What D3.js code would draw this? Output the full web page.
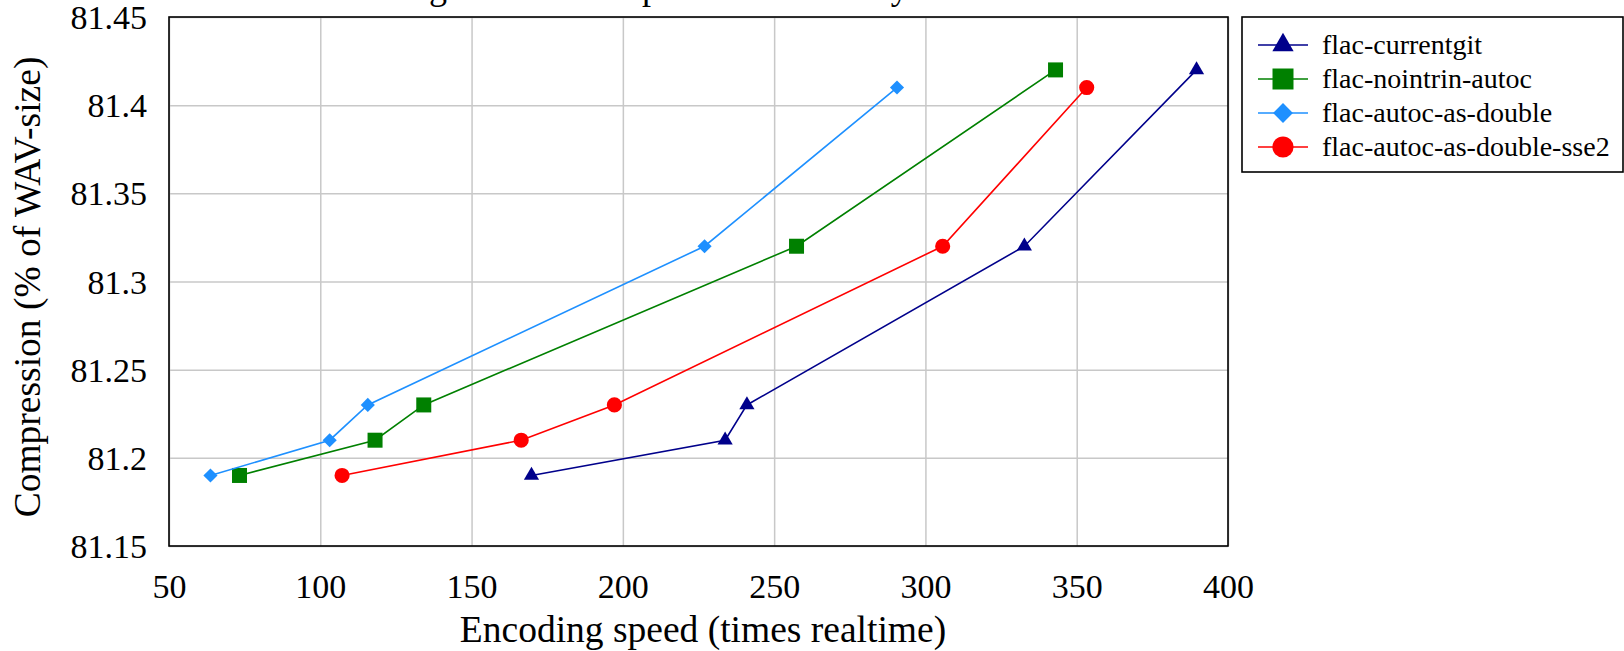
<!DOCTYPE html>
<html>
<head>
<meta charset="utf-8">
<script src="https://cdn.jsdelivr.net/npm/d3@7"></script>
<style>
  html, body { margin: 0; padding: 0; background: #fff; }
  svg { display: block; }
  text { font-family: "Liberation Serif", "Times New Roman", serif; fill: #000; }
</style>
</head>
<body>
<svg id="chart" width="1624" height="651"></svg>
<script>
// ---- data ----
const seriesNames = ["flac-currentgit", "flac-nointrin-autoc", "flac-autoc-as-double", "flac-autoc-as-double-sse2"];
const currentgitSpeed = [169.8, 233.8, 241.0, 332.7, 389.6];
const currentgitComp = [81.19, 81.21, 81.23, 81.32, 81.42];
const nointrinSpeed = [73.3, 118.1, 134.2, 257.4, 343.0];
const nointrinComp = [81.19, 81.21, 81.23, 81.32, 81.42];
const doubleSpeed = [63.7, 103.1, 115.7, 227.0, 290.6];
const doubleComp = [81.19, 81.21, 81.23, 81.32, 81.41];
const sse2Speed = [107.2, 166.4, 197.2, 305.7, 353.3];
const sse2Comp = [81.19, 81.21, 81.23, 81.32, 81.41];
const xTicks = [50, 100, 150, 200, 250, 300, 350, 400];
const yTicks = [81.15, 81.2, 81.25, 81.3, 81.35, 81.4, 81.45];
const xTitle = "Encoding speed (times realtime)";
const yTitle = "Compression (% of WAV-size)";
const chartTitle = "Encoding rate and compression of flac by level";

// ---- styling ----
const colors = ["#00008b", "#008000", "#1e90ff", "#ff0000"];
const markerTypes = ["triangle", "square", "diamond", "circle"];

const svg = d3.select("#chart");
const pL = 169, pR = 1228, pT = 17, pB = 546;

const x = d3.scaleLinear().domain([50, 400]).range([pL, pR]);
const y = d3.scaleLinear().domain([81.15, 81.45]).range([pB, pT]);

// grid
svg.append("g")
  .attr("transform", `translate(0,${pB})`)
  .call(d3.axisBottom(x).tickValues(xTicks).tickSize(-(pB - pT)).tickFormat(""))
  .call(g => g.select(".domain").remove())
  .call(g => g.selectAll("line").attr("stroke", "#c8c8c8").attr("stroke-width", 1.5));
svg.append("g")
  .attr("transform", `translate(${pL},0)`)
  .call(d3.axisLeft(y).tickValues(yTicks).tickSize(-(pR - pL)).tickFormat(""))
  .call(g => g.select(".domain").remove())
  .call(g => g.selectAll("line").attr("stroke", "#c8c8c8").attr("stroke-width", 1.5));

// tick labels
svg.append("g")
  .attr("transform", `translate(0,${pB})`)
  .call(d3.axisBottom(x).tickValues(xTicks).tickSize(0).tickPadding(0).tickFormat(d3.format("d")))
  .call(g => g.select(".domain").remove())
  .call(g => g.selectAll("text")
     .attr("dy", null).attr("y", 52)
     .style("font-family", '"Liberation Serif", serif').style("font-size", "34px").attr("fill", "#000"));
svg.append("g")
  .attr("transform", `translate(${pL},0)`)
  .call(d3.axisLeft(y).tickValues(yTicks).tickSize(0).tickPadding(0).tickFormat(d => String(+d.toFixed(2))))
  .call(g => g.select(".domain").remove())
  .call(g => g.selectAll("text")
     .attr("dy", null).attr("x", -22).attr("y", 11.5)
     .style("font-family", '"Liberation Serif", serif').style("font-size", "34px").attr("fill", "#000"));

// axis titles
svg.append("text").attr("x", 703).attr("y", 642)
  .attr("text-anchor", "middle").style("font-size", "37.5px").text(xTitle);
svg.append("text").attr("transform", `translate(40,287) rotate(-90)`)
  .attr("text-anchor", "middle").style("font-size", "37.5px").text(yTitle);

// title (mostly above the canvas) - positioned so its first descender sits near x=438
const title = svg.append("text").attr("x", 0).attr("y", -1)
  .attr("text-anchor", "start").style("font-size", "36px").text(chartTitle);
(function placeTitle() {
  const node = title.node();
  const gi = chartTitle.indexOf("g");
  let off = 0;
  try {
    off = node.getSubStringLength(0, gi) + node.getSubStringLength(gi, 1) / 2;
  } catch (e) { off = 130; }
  title.attr("x", 438 - off);
})();

// series
const series = [
  { name: seriesNames[0], xs: currentgitSpeed, ys: currentgitComp },
  { name: seriesNames[1], xs: nointrinSpeed, ys: nointrinComp },
  { name: seriesNames[2], xs: doubleSpeed, ys: doubleComp },
  { name: seriesNames[3], xs: sse2Speed, ys: sse2Comp }
];

function markerPath(type, scale) {
  if (type === "triangle") return d3.symbol(d3.symbolTriangle, 100 * scale * scale)();
  if (type === "square") return d3.symbol(d3.symbolSquare, 225 * scale * scale)();
  if (type === "diamond") return d3.symbol(d3.symbolSquare, 100 * scale * scale)();
  return d3.symbol(d3.symbolCircle, 180 * scale * scale)();
}
function markerTransform(type, px, py) {
  return type === "diamond" ? `translate(${px},${py}) rotate(45)` : `translate(${px},${py})`;
}

const line = d3.line().x(d => x(d[0])).y(d => y(d[1]));
series.forEach((s, i) => {
  const pts = s.xs.map((v, k) => [v, s.ys[k]]);
  svg.append("path").datum(pts).attr("d", line)
    .attr("fill", "none").attr("stroke", colors[i]).attr("stroke-width", 1.6);
  svg.append("g").selectAll("path").data(pts).join("path")
    .attr("d", markerPath(markerTypes[i], 1))
    .attr("transform", d => markerTransform(markerTypes[i], x(d[0]), y(d[1])))
    .attr("fill", colors[i]);
});

// frame
svg.append("rect").attr("x", pL).attr("y", pT).attr("width", pR - pL).attr("height", pB - pT)
  .attr("fill", "none").attr("stroke", "#000").attr("stroke-width", 1.6);

// legend
const lg = svg.append("g");
lg.append("rect").attr("x", 1242).attr("y", 17).attr("width", 381).attr("height", 155)
  .attr("fill", "#fff").attr("stroke", "#000").attr("stroke-width", 1.6);
series.forEach((s, i) => {
  const cy = 45 + i * 34;
  lg.append("line").attr("x1", 1258).attr("x2", 1308).attr("y1", cy).attr("y2", cy)
    .attr("stroke", colors[i]).attr("stroke-width", 1.6);
  lg.append("path").attr("d", markerPath(markerTypes[i], 1.4))
    .attr("transform", markerTransform(markerTypes[i], 1283, cy)).attr("fill", colors[i]);
  lg.append("text").attr("x", 1322).attr("y", cy + 9).style("font-size", "28px").text(s.name);
});
</script>
</body>
</html>
